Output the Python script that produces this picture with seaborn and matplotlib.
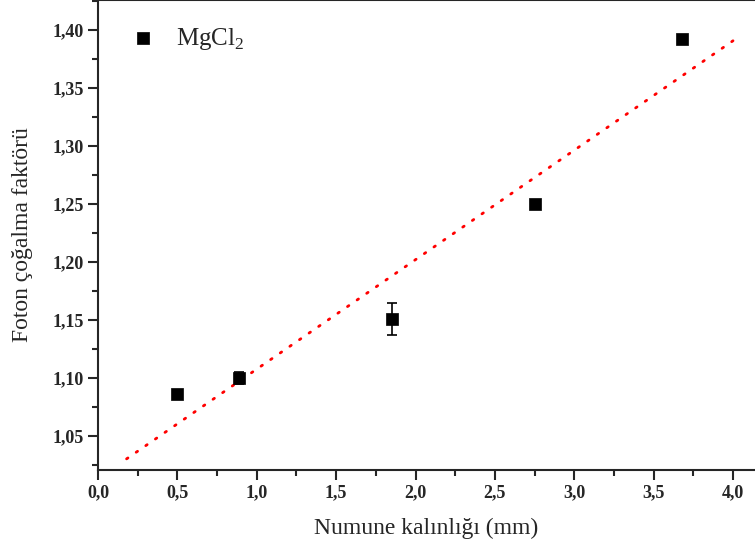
import numpy as np
import pandas as pd
import seaborn as sns
import matplotlib
matplotlib.use("Agg")
import matplotlib.pyplot as plt
from matplotlib.ticker import MultipleLocator, FuncFormatter

# Measured thickness (mm) and photon buildup factor for MgCl2
thickness = [0.50, 0.89, 1.85, 2.75, 3.68]
buildup = [1.086, 1.100, 1.151, 1.250, 1.392]
buildup_err = [0.0, 0.005, 0.0135, 0.0, 0.0]
fit_range = [0.18, 4.0]

series_label = r"MgCl$_\mathregular{2}$"
x_label = "Numune kalınlığı (mm)"
y_label = "Foton çoğalma faktörü"

sns.set_theme(style="ticks")
plt.rcParams["font.family"] = ["Liberation Serif", "DejaVu Serif"]
plt.rcParams["mathtext.fontset"] = "custom"
plt.rcParams["mathtext.rm"] = "Liberation Serif"

df = pd.DataFrame({"x": thickness, "y": buildup})

# Linear fit over the measured points
slope, intercept = np.polyfit(thickness, buildup, 1)
fit_x = np.linspace(fit_range[0], fit_range[1], 50)
fit_df = pd.DataFrame({"x": fit_x, "y": intercept + slope * fit_x})

fig = plt.figure(figsize=(7.55, 5.53), dpi=100)
ax = fig.add_axes([98 / 755, 1 - 470 / 553, 1 - 98 / 755, 470 / 553])

sns.lineplot(data=fit_df, x="x", y="y", ax=ax, color="red", linewidth=2.0,
             linestyle=(0, (0.6, 3.6)), dash_capstyle="round", zorder=3)
err_idx = [i for i, e in enumerate(buildup_err) if e > 0]
ax.errorbar([thickness[i] for i in err_idx], [buildup[i] for i in err_idx],
            yerr=[buildup_err[i] for i in err_idx], fmt="none", ecolor="black",
            elinewidth=1.2, capsize=3.6, capthick=1.2, zorder=2)
sns.scatterplot(data=df, x="x", y="y", ax=ax, marker="s", s=70, color="black",
                edgecolor="black", linewidth=0.5, label=series_label, zorder=4)

ax.set_xlim(0, (755 - 98) / 158.75)
ax.set_ylim(1.0207, 1.4259)

ax.xaxis.set_major_locator(MultipleLocator(0.5))
ax.xaxis.set_minor_locator(MultipleLocator(0.25))
ax.yaxis.set_major_locator(MultipleLocator(0.05))
ax.yaxis.set_minor_locator(MultipleLocator(0.025))
ax.xaxis.set_major_formatter(FuncFormatter(lambda v, p: f"{v:.1f}".replace(".", ",")))
ax.yaxis.set_major_formatter(FuncFormatter(lambda v, p: f"{v:.2f}".replace(".", ",")))

ax.tick_params(which="major", direction="out", length=7, width=1.5,
               labelsize=13, top=True, right=False)
ax.tick_params(which="minor", direction="out", length=4, width=1.5, top=True)
for lab in ax.get_xticklabels() + ax.get_yticklabels():
    lab.set_fontweight("bold")
for side in ["left", "bottom", "top"]:
    ax.spines[side].set_linewidth(1.5)
ax.spines["right"].set_visible(False)

ax.set_xlabel(x_label, fontsize=17, labelpad=12)
ax.set_ylabel(y_label, fontsize=17, labelpad=14)

leg = ax.legend(loc="upper left", bbox_to_anchor=(0.012, 0.993), frameon=False,
                fontsize=18, handlelength=1.2, handletextpad=0.7)

fig.savefig("out.png", dpi=100)
